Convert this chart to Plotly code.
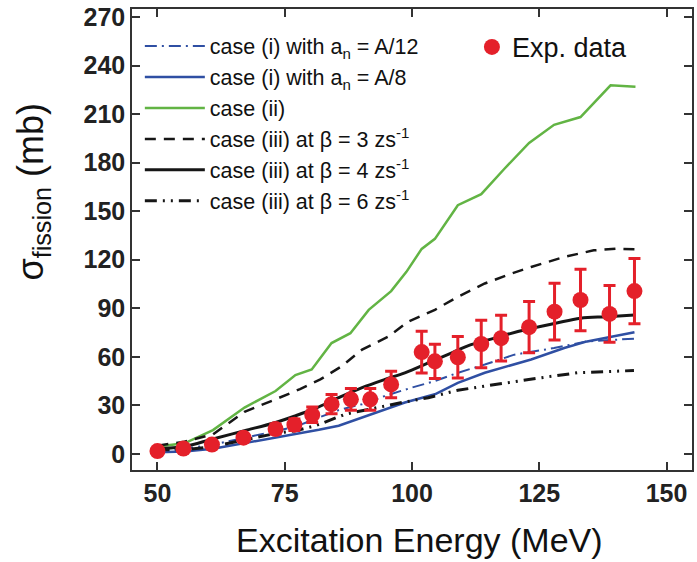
import plotly.graph_objects as go

# ---------------- data ----------------
exp_E = [50.0, 55.1, 60.7, 66.9, 73.2, 76.9, 80.4, 84.2, 88.0, 91.8, 95.9,
         101.9, 104.5, 109.0, 113.6, 117.5, 123.0, 128.0, 133.1, 138.8, 143.7]
exp_sigma = [1.7, 3.3, 5.7, 10.0, 15.3, 18.0, 24.1, 30.7, 33.7, 33.7, 42.9,
             62.9, 57.2, 59.7, 67.9, 71.5, 78.3, 87.9, 95.1, 86.5, 100.6]
exp_err = [0.3, 0.7, 1.1, 2.0, 3.1, 3.6, 4.8, 5.9, 6.7, 6.7, 8.2,
           12.9, 10.6, 12.9, 14.7, 14.1, 15.8, 17.5, 19.0, 17.5, 20.2]

green_E = [50.0, 55.3, 60.9, 67.1, 73.2, 77.1, 80.3, 84.2, 87.9, 91.5, 95.9,
           98.9, 101.9, 104.5, 109.0, 113.6, 118.2, 123.0, 127.9, 133.1, 139.0, 143.9]
green_sigma = [4.5, 6.5, 14.7, 28.6, 38.8, 48.7, 52.1, 68.5, 74.6, 89.0, 100.6,
               112.5, 126.7, 132.9, 153.7, 160.5, 176.4, 192.2, 203.4, 208.2, 227.8, 227.0]

b3_E = [50.0, 55.3, 60.9, 67.1, 73.2, 78.0, 82.0, 86.2, 90.2, 95.4, 99.3,
        104.5, 109.0, 114.3, 119.5, 123.4, 129.9, 135.7, 140.0, 144.0]
b3_sigma = [5.0, 7.5, 12.0, 26.0, 33.7, 40.0, 46.0, 54.2, 64.4, 72.6, 81.8,
            89.0, 97.1, 105.3, 111.4, 115.5, 121.7, 125.8, 126.8, 126.5]

b4_E = [50.0, 55.3, 60.9, 67.1, 73.2, 77.1, 81.1, 85.6, 90.2, 94.7, 98.6,
        103.2, 107.7, 111.6, 116.2, 120.8, 128.2, 133.1, 138.3, 143.7]
b4_sigma = [3.1, 4.5, 9.2, 14.3, 19.4, 23.5, 28.2, 34.7, 40.9, 46.0, 50.1,
            56.2, 62.3, 67.5, 71.5, 75.6, 80.7, 83.8, 84.8, 85.9]

b6_E = [50.0, 55.3, 60.9, 67.1, 73.2, 77.1, 81.1, 86.9, 91.5, 98.0, 103.2,
        109.0, 114.3, 119.5, 125.3, 132.5, 139.0, 143.6]
b6_sigma = [2.5, 2.5, 4.5, 8.6, 12.6, 14.3, 17.4, 24.5, 27.6, 31.7, 34.7,
            39.3, 41.9, 44.5, 47.0, 50.1, 51.1, 51.5]

a12_E = [50.0, 55.3, 60.9, 67.1, 73.2, 77.1, 81.7, 85.6, 90.2, 94.7, 99.9,
         104.5, 109.0, 114.3, 120.1, 127.9, 134.4, 143.6]
a12_sigma = [1.6, 3.1, 5.7, 9.8, 14.3, 16.7, 22.5, 27.0, 30.7, 35.8, 40.9,
             45.0, 50.1, 55.2, 61.3, 65.4, 69.5, 71.2]

a8_E = [50.0, 55.3, 60.9, 67.1, 73.2, 77.1, 81.7, 85.6, 90.2, 94.7, 98.6,
        104.5, 109.0, 114.3, 120.8, 123.4, 129.9, 134.4, 143.7]
a8_sigma = [1.0, 1.4, 3.1, 6.5, 10.2, 12.3, 14.9, 17.4, 22.5, 27.6, 31.7,
            36.8, 43.9, 50.1, 56.2, 58.3, 65.4, 69.5, 75.2]

x_ticks = [50, 75, 100, 125, 150]
y_ticks = [0, 30, 60, 90, 120, 150, 180, 210, 240, 270]

BLUE = "#2f4fa3"
GREEN = "#62b444"
BLACK = "#161616"
RED = "#e4202a"
FONT = "Liberation Sans, Arial, sans-serif"

fig = go.Figure()

fig.add_trace(go.Scatter(x=a12_E, y=a12_sigma, mode="lines",
                         name="case (i) with a<sub>n</sub> = A/12",
                         line=dict(color=BLUE, width=2, dash="12px,5px,2px,5px")))
fig.add_trace(go.Scatter(x=a8_E, y=a8_sigma, mode="lines",
                         name="case (i) with a<sub>n</sub> = A/8",
                         line=dict(color=BLUE, width=2.5)))
fig.add_trace(go.Scatter(x=green_E, y=green_sigma, mode="lines",
                         name="case (ii)",
                         line=dict(color=GREEN, width=2.5)))
fig.add_trace(go.Scatter(x=b3_E, y=b3_sigma, mode="lines",
                         name="case (iii) at β = 3 zs<sup>-1</sup>",
                         line=dict(color=BLACK, width=2.5, dash="11px,8px")))
fig.add_trace(go.Scatter(x=b4_E, y=b4_sigma, mode="lines",
                         name="case (iii) at β = 4 zs<sup>-1</sup>",
                         line=dict(color=BLACK, width=3, shape="spline")))
fig.add_trace(go.Scatter(x=b6_E, y=b6_sigma, mode="lines",
                         name="case (iii) at β = 6 zs<sup>-1</sup>",
                         line=dict(color=BLACK, width=3, dash="12px,6px,2px,6px,2px,6px")))
fig.add_trace(go.Scatter(x=exp_E, y=exp_sigma, mode="markers",
                         name="Exp. data", legend="legend2",
                         marker=dict(color=RED, size=16, line=dict(width=0)),
                         error_y=dict(type="data", array=exp_err, visible=True,
                                      color=RED, thickness=3, width=6)))

axis_common = dict(showline=True, linewidth=1.5, linecolor="#333", mirror="ticks",
                   ticks="inside", ticklen=8, tickwidth=1.5, tickcolor="#333",
                   showgrid=False, zeroline=False, ticklabeloverflow="allow",
                   tickfont=dict(family=FONT, size=25, color="#222", weight="bold"))

fig.update_layout(
    width=697, height=562,
    margin=dict(l=132, r=3, t=5, b=92),
    paper_bgcolor="white", plot_bgcolor="white",
    font=dict(family=FONT, color="#111"),
    xaxis=dict(range=[45, 155], tickvals=x_ticks, **axis_common),
    yaxis=dict(range=[-10, 275], tickvals=y_ticks, **axis_common),
    legend=dict(x=0.014, y=0.964, xanchor="left", yanchor="top",
                bgcolor="rgba(0,0,0,0)", borderwidth=0, itemwidth=60,
                font=dict(family=FONT, size=21.5, color="#111"), tracegroupgap=0),
    legend2=dict(x=0.607, y=0.970, xanchor="left", yanchor="top",
                 bgcolor="rgba(0,0,0,0)", borderwidth=0,
                 font=dict(family=FONT, size=27, color="#111")),
    annotations=[
        dict(text="σ<sub>fission</sub> (mb)", textangle=-90,
             xref="paper", yref="paper", x=-0.176, y=0.605,
             xanchor="center", yanchor="middle", showarrow=False,
             font=dict(family=FONT, size=36, color="#111")),
        dict(text="Excitation Energy (MeV)",
             xref="paper", yref="paper", x=0.514, y=-0.152,
             xanchor="center", yanchor="middle", showarrow=False,
             font=dict(family=FONT, size=34, color="#111")),
    ],
)

fig.write_html("out.html")
